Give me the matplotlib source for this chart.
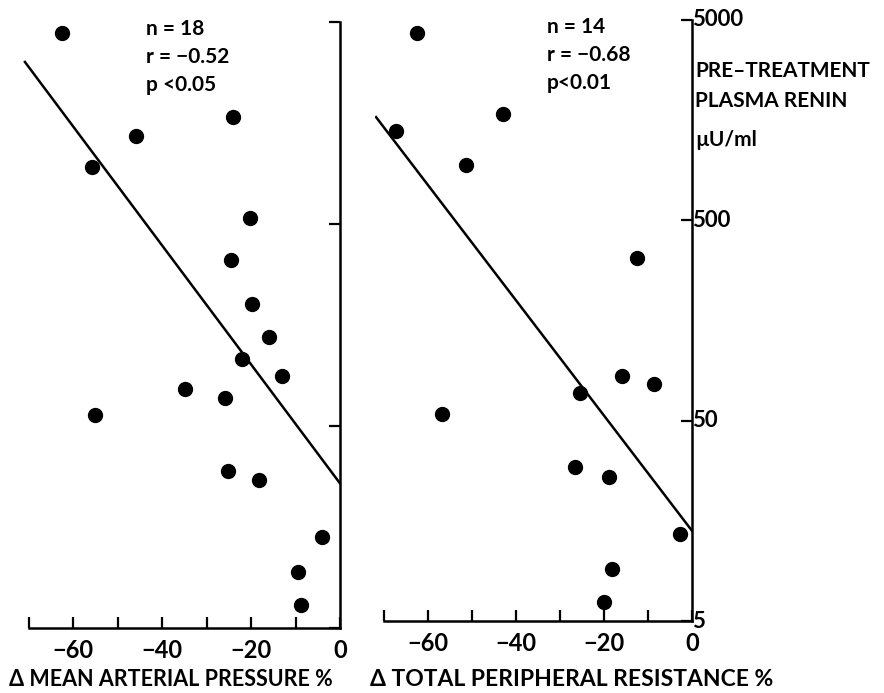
import matplotlib.pyplot as plt
import matplotlib.ticker as mticker

plt.rcParams['font.family'] = ['Lato', 'DejaVu Sans']
plt.rcParams['font.weight'] = 'bold'

# left panel: change in mean arterial pressure (%) vs pre-treatment renin
map_change = [-62.5, -45.8, -55.7, -24.0, -20.2, -24.5, -19.8, -16.0, -22.0,
              -13.0, -34.8, -25.8, -55.1, -25.2, -18.2, -4.0, -9.4, -8.8]
map_renin = [4414, 1364, 958, 1693, 535, 332, 201, 138, 107,
             88, 76, 69, 57, 29.9, 27, 14.1, 9.5, 6.5]
map_fit_x = [-70.8, 0]
map_fit_y = [3170, 26]

# right panel: change in total peripheral resistance (%)
tpr_change = [-62.5, -43.0, -67.3, -51.4, -12.5, -15.9, -8.6,
              -25.5, -56.8, -26.6, -18.9, -2.7, -18.2, -20.0]
tpr_renin = [4306, 1694, 1393, 942, 323, 84, 76,
             69, 54, 29.4, 26.2, 13.6, 9.1, 6.2]
tpr_fit_x = [-71.8, 0]
tpr_fit_y = [1637, 14.1]

x_ticks = [-70, -60, -50, -40, -30, -20, -10, 0]
x_labels = ['', '\u221260', '', '\u221240', '', '\u221220', '', '0']
y_ticks = [5, 50, 500, 5000]
y_labels = ['5', '50', '500', '5000']

W, H = 884, 693
fig = plt.figure(figsize=(W / 100, H / 100), dpi=100)


def px_axes(x0, x1, ytop, ybot):
    return fig.add_axes([x0 / W, 1 - ybot / H, (x1 - x0) / W, (ybot - ytop) / H])


def style(ax):
    ax.set_xlim(-72, 0)
    ax.set_yscale('log')
    ax.set_ylim(5, 5000)
    for s in ['left', 'top']:
        ax.spines[s].set_visible(False)
    for s in ['right', 'bottom']:
        ax.spines[s].set_linewidth(1.8)
    ax.spines['bottom'].set_bounds(-70, 0)
    ax.set_xticks(x_ticks)
    ax.set_xticklabels(x_labels)
    ax.tick_params(axis='x', direction='in', length=8, width=1.6, pad=8, labelsize=17)
    ax.yaxis.tick_right()
    ax.set_yticks(y_ticks)
    ax.yaxis.set_minor_locator(mticker.NullLocator())
    ax.tick_params(axis='y', direction='in', length=8, width=1.6, pad=0, labelsize=16)


ax1 = px_axes(340 - 72 * 4.45, 340, 22, 628)
style(ax1)
ax1.set_yticklabels([])
ax1.plot(map_change, map_renin, 'o', color='black', markersize=10, clip_on=False)
ax1.plot(map_fit_x, map_fit_y, color='black', linewidth=1.8)
ax1.text(-43.5, 5200, 'n = 18\nr = \u22120.52\np <0.05', fontsize=15,
         va='top', ha='left', linespacing=1.5)

ax2 = px_axes(692 - 72 * 4.4, 692, 20, 621)
style(ax2)
ax2.set_yticklabels(y_labels)
for lab in ax2.get_yticklabels():
    lab.set_verticalalignment('center')
ax2.plot(tpr_change, tpr_renin, 'o', color='black', markersize=10, clip_on=False)
ax2.plot(tpr_fit_x, tpr_fit_y, color='black', linewidth=1.8)
ax2.text(-33, 5200, 'n = 14\nr = \u22120.68\np<0.01', fontsize=15,
         va='top', ha='left', linespacing=1.5)

fig.text(695 / W, 1 - 61 / H, 'PRE\u2013TREATMENT\nPLASMA RENIN', fontsize=15,
         ha='left', va='top', linespacing=1.6)
fig.text(695 / W, 1 - 140 / H, '\u00b5U/ml', fontsize=15, ha='left', va='center')

fig.text(171 / W, 1 - 680 / H, '\u0394 MEAN ARTERIAL PRESSURE %', fontsize=15.5,
         ha='center', va='center')
fig.text(572 / W, 1 - 680 / H, '\u0394 TOTAL PERIPHERAL RESISTANCE %', fontsize=16.5,
         ha='center', va='center')

fig.savefig('out.png', dpi=100)
